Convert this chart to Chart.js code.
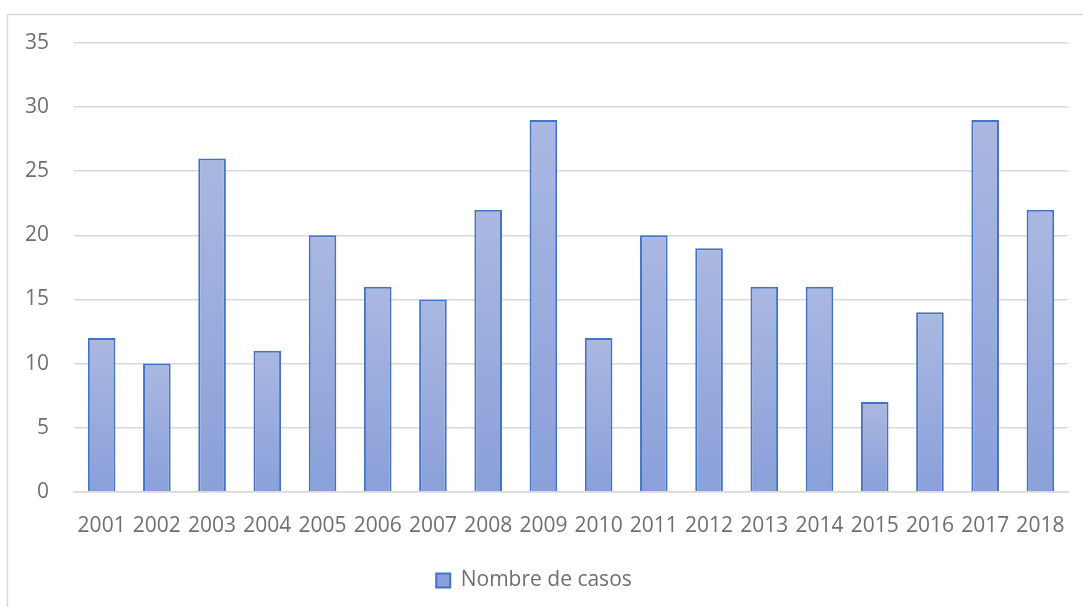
<!DOCTYPE html>
<html>
<head>
<meta charset="utf-8">
<script src="https://cdn.jsdelivr.net/npm/chart.js@4.4.1/dist/chart.umd.min.js"></script>
<style>
  html, body { margin: 0; padding: 0; background: #ffffff; }
  #wrap { position: relative; width: 1083px; height: 607px; }
</style>
</head>
<body>
<div id="wrap"><canvas id="c" width="1083" height="607"></canvas></div>
<script>
const years = ['2001','2002','2003','2004','2005','2006','2007','2008','2009','2010','2011','2012','2013','2014','2015','2016','2017','2018'];
const cases = [12, 10, 26, 11, 20, 16, 15, 22, 29, 12, 20, 19, 16, 16, 7, 14, 29, 22];
const seriesLabel = 'Nombre de casos';

const textColor = '#6f6f6f';
const gridColor = '#d9d9d9';
const barBorder = '#4472c4';
const fontFamily = 'Open Sans';

// Per-bar vertical gradient: lighter at the top, deeper at the base
function barFill(ctx) {
  if (ctx.type !== 'data') return '#a3b4e0';
  const chart = ctx.chart;
  const y = chart.scales.y;
  if (!y || !chart.chartArea) return '#a3b4e0';
  const top = y.getPixelForValue(ctx.raw);
  const base = y.getPixelForValue(0);
  const g = chart.ctx.createLinearGradient(0, top, 0, base);
  g.addColorStop(0, '#aab8e1');
  g.addColorStop(1, '#8aa0da');
  return g;
}

// Thin outer frame around the chart
const framePlugin = {
  id: 'frame',
  beforeDraw(chart) {
    const c = chart.ctx;
    c.save();
    c.strokeStyle = '#d9d9d9';
    c.lineWidth = 1.5;
    c.strokeRect(7.5, 14.5, 1090, 610);
    c.restore();
  }
};

new Chart(document.getElementById('c'), {
  type: 'bar',
  data: {
    labels: years,
    datasets: [{
      label: seriesLabel,
      data: cases,
      backgroundColor: barFill,
      borderColor: barBorder,
      borderWidth: 2,
      borderSkipped: 'bottom',
      categoryPercentage: 1.0,
      barPercentage: 0.5
    }]
  },
  options: {
    responsive: false,
    animation: false,
    devicePixelRatio: 1,
    layout: { padding: { left: 0, right: 15, top: 43, bottom: 6 } },
    plugins: {
      tooltip: { enabled: false },
      legend: {
        position: 'bottom',
        labels: {
          color: textColor,
          boxWidth: 14,
          boxHeight: 14,
          padding: 31,
          font: { family: fontFamily, size: 21 }
        }
      }
    },
    scales: {
      x: {
        // invisible tick marks keep the year labels clear of the baseline
        grid: { display: true, drawOnChartArea: false, drawTicks: true, tickLength: 22, tickColor: 'rgba(0,0,0,0)' },
        border: { display: true, color: gridColor, width: 1.5 },
        ticks: {
          color: textColor,
          padding: 0,
          maxRotation: 0,
          autoSkip: false,
          font: { family: fontFamily, size: 21 }
        }
      },
      y: {
        min: 0,
        max: 35,
        grid: { color: gridColor, lineWidth: 1.5, drawTicks: false },
        border: { display: false },
        ticks: {
          stepSize: 5,
          color: textColor,
          padding: 25,
          font: { family: fontFamily, size: 21 }
        }
      }
    }
  },
  plugins: [framePlugin]
});
</script>
</body>
</html>
